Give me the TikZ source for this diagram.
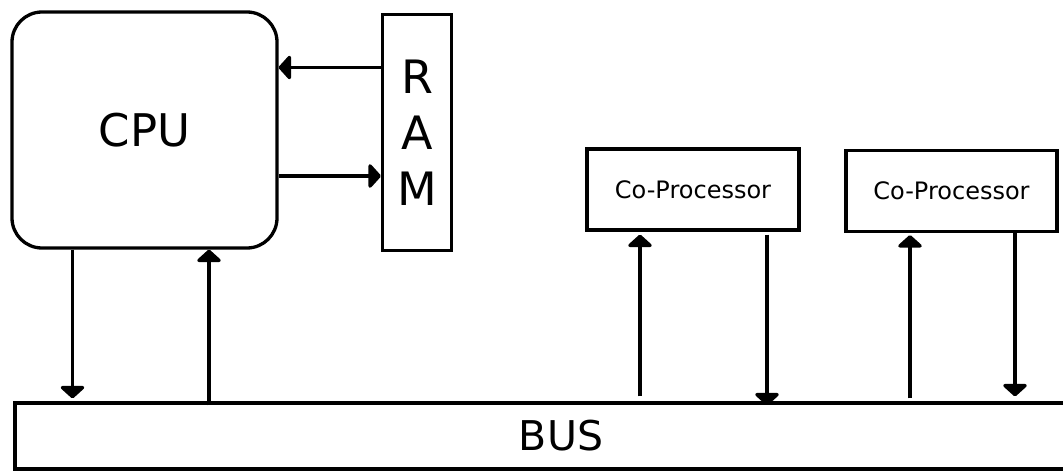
\documentclass[tikz,border=0pt]{standalone}
\usepackage{fontspec}
\setmainfont{DejaVu Sans}
\usetikzlibrary{arrows.meta}
\begin{document}
\begin{tikzpicture}[x=1pt,y=-1pt,line width=3.3pt,
  box/.style={draw,inner sep=0pt},
  arr/.style={-{Triangle[width=28pt,length=13pt,round]}}]
\clip (0,0) rectangle (1063,471);
\fill[white] (0,0) rectangle (1063,471);
% units
\node[box,rounded corners=30pt,minimum width=265pt,minimum height=236pt,font=\fontsize{45}{54}\selectfont] (cpu) at (144.5,130) {CPU};
\node[box,minimum width=69pt,minimum height=236pt,align=center,font=\fontsize{46}{56}\selectfont] (ram) at (417,132.5) {R\\A\\M};
\node[box,minimum width=212pt,minimum height=81pt,font=\fontsize{24}{29}\selectfont] (cp1) at (693,189.5) {Co-Processor};
\node[box,minimum width=211pt,minimum height=81pt,font=\fontsize{24}{29}\selectfont] (cp2) at (951.5,191) {Co-Processor};
\node[box,minimum width=1092pt,minimum height=66pt,font=\fontsize{41}{49}\selectfont] (bus) at (561,436) {BUS};
% cpu <-> ram
\draw[arr] ([yshift=65pt]ram.west) -- ([yshift=65pt]ram.west -| cpu.east);
\draw[arr] ([yshift=-46pt]cpu.east) -- ([yshift=-46pt]cpu.east -| ram.west);
% cpu <-> bus
\draw[arr,shorten >=3pt] ([xshift=-72pt]cpu.south) -- ([xshift=-72pt]cpu.south |- bus.north);
\draw[arr] ([xshift=64.5pt,yshift=-4pt]bus.north -| cpu.south) -- ([xshift=64.5pt]cpu.south);
% co-processors <-> bus
\draw[arr,shorten <=5pt,shorten >=3pt] ([xshift=-53pt]bus.north -| cp1.south) -- ([xshift=-53pt]cp1.south);
\draw[arr,shorten <=3pt,shorten >=-4pt] ([xshift=74pt]cp1.south) -- ([xshift=74pt]cp1.south |- bus.north);
\draw[arr,shorten <=3pt,shorten >=2pt] ([xshift=-41.5pt]bus.north -| cp2.south) -- ([xshift=-41.5pt]cp2.south);
\draw[arr,shorten >=5pt] ([xshift=63.5pt]cp2.south) -- ([xshift=63.5pt]cp2.south |- bus.north);
\end{tikzpicture}
\end{document}
